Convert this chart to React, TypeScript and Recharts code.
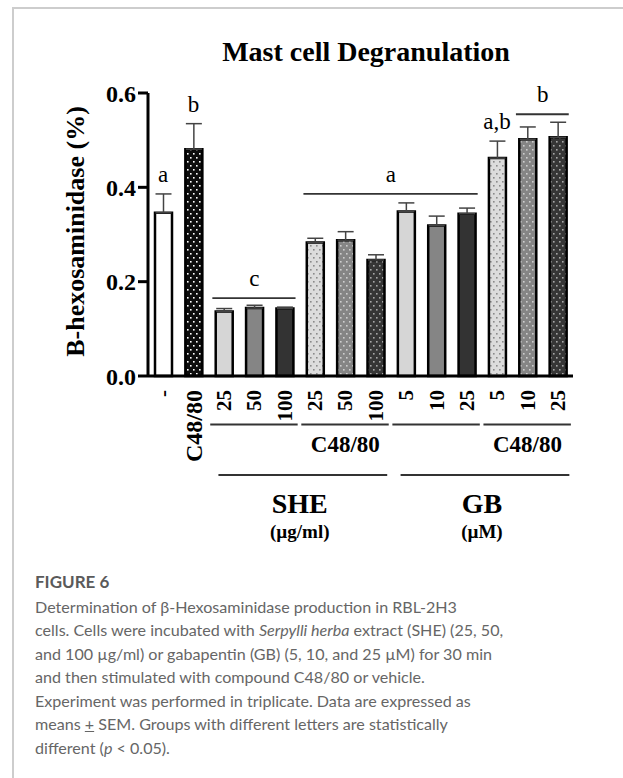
import React from 'react'
import {
  BarChart, Bar, XAxis, YAxis, Cell, ErrorBar, ReferenceLine, ReferenceDot,
} from 'recharts'

const SERIF = '"Liberation Serif", "Times New Roman", serif'

// one entry per bar, left to right
const groups = [
  'vehicle', 'c4880', 'she25', 'she50', 'she100', 'she25c', 'she50c', 'she100c',
  'gb5', 'gb10', 'gb25', 'gb5c', 'gb10c', 'gb25c',
]
const tickLabels = ['-', 'C48/80', '25', '50', '100', '25', '50', '100', '5', '10', '25', '5', '10', '25']
const means = [0.346, 0.481, 0.137, 0.144, 0.143, 0.283, 0.288, 0.246, 0.349, 0.319, 0.344, 0.462, 0.502, 0.506]
const sems = [0.040, 0.054, 0.006, 0.006, 0.003, 0.009, 0.018, 0.011, 0.018, 0.020, 0.012, 0.036, 0.026, 0.032]
const yTicks = [0, 0.2, 0.4, 0.6]

// significance letters
const barLetters = [
  { bar: 0, text: 'a' },
  { bar: 1, text: 'b' },
  { bar: 11, text: 'a,b' },
]
const brackets = [
  { from: 2, to: 4, level: 0.165, text: 'c' },
  { from: 5, to: 10, level: 0.386, text: 'a' },
  { from: 12, to: 13, level: 0.555, text: 'b' },
]

// grouping under the x axis
const treatments = [
  { from: 2, to: 4, text: '' },
  { from: 5, to: 7, text: 'C48/80' },
  { from: 8, to: 10, text: '' },
  { from: 11, to: 13, text: 'C48/80' },
]
const compounds = [
  { from: 2, to: 7, name: 'SHE', unit: '(µg/ml)' },
  { from: 8, to: 13, name: 'GB', unit: '(µM)' },
]

const barFills = [
  '#ffffff', 'url(#dotBlack)', '#d6d6d6', '#858585', '#333333', 'url(#dotLight)', 'url(#dotMid)',
  'url(#dotDark)', '#d6d6d6', '#858585', '#333333', 'url(#dotLight)', 'url(#dotMid)', 'url(#dotDark)',
]

const data = groups.map((g, i) => ({ group: g, idx: i, mean: means[i], err: [0, sems[i]] }))

function DotPattern({ id, bg, dot }: { id: string; bg: string; dot: string }) {
  return (
    <pattern id={id} width={6} height={8} patternUnits="userSpaceOnUse">
      <rect width={6} height={8} fill={bg} />
      <rect x={1} y={1} width={1.6} height={1.6} fill={dot} />
      <rect x={4} y={5} width={1.6} height={1.6} fill={dot} />
    </pattern>
  )
}

function RotTick({ x, y, payload }: any) {
  const label = tickLabels[payload.index]
  const fs = label === 'C48/80' ? 24 : 21
  const bx = x + fs * 0.34
  const by = y + 6
  return (
    <text
      x={bx} y={by} transform={`rotate(-90 ${bx} ${by})`} textAnchor="end"
      fontSize={fs} fontWeight="bold" fontFamily={SERIF} fill="#000"
    >
      {label}
    </text>
  )
}

function txt(s: string, size: number, bold: boolean, dy: number) {
  return (p: any) => (
    <text
      x={p.cx} y={p.cy + dy} textAnchor="middle" fontSize={size}
      fontWeight={bold ? 'bold' : 'normal'} fontFamily={SERIF} fill="#000"
    >
      {s}
    </text>
  )
}

function offsetLine(dy: number, color: string, w: number) {
  return (p: any) => (
    <line x1={p.x1} y1={p.y1 + dy} x2={p.x2} y2={p.y2 + dy} stroke={color} strokeWidth={w} />
  )
}

function Chart() {
  return (
    <BarChart
      width={623} height={560} data={data}
      margin={{ top: 93, right: 50, left: 0, bottom: 0 }}
    >
      <defs>
        <DotPattern id="dotBlack" bg="#0d0d0d" dot="#ffffff" />
        <DotPattern id="dotLight" bg="#dcdcdc" dot="#8a8a8a" />
        <DotPattern id="dotMid" bg="#858585" dot="#cfcfcf" />
        <DotPattern id="dotDark" bg="#363636" dot="#a8a8a8" />
      </defs>
      <XAxis
        dataKey="group" height={184} interval={0} tickLine={false}
        axisLine={{ stroke: '#000', strokeWidth: 3 }}
        tick={(p: any) => <RotTick {...p} />}
      />
      <XAxis xAxisId="n" type="number" dataKey="idx" domain={[0, 14]} allowDataOverflow hide />
      <YAxis
        domain={[0, 0.6]} ticks={yTicks} width={148} tickSize={10} tickMargin={2}
        tickFormatter={(v: number) => v.toFixed(1)}
        axisLine={{ stroke: '#000', strokeWidth: 3 }}
        tickLine={{ stroke: '#000', strokeWidth: 3 }}
        tick={{ fill: '#000', fontSize: 24, fontWeight: 'bold', fontFamily: SERIF }}
        label={{
          content: (p: any) => {
            const cx = p.viewBox.x + 84
            const cy = p.viewBox.y + p.viewBox.height / 2 - 3
            return (
              <text
                x={cx} y={cy} transform={`rotate(-90 ${cx} ${cy})`} textAnchor="middle"
                fontSize={26} fontWeight="bold" fontFamily={SERIF} fill="#000"
              >
                B-hexosaminidase (%)
              </text>
            )
          },
        }}
      />
      <Bar
        dataKey="mean" barSize={17} stroke="#000" strokeWidth={2.5}
        isAnimationActive={false}
      >
        {data.map((d, i) => <Cell key={d.group} fill={barFills[i]} />)}
        <ErrorBar
          dataKey="err" width={8} stroke="#444" strokeWidth={1.5}
          direction="y" isAnimationActive={false}
        />
      </Bar>

      {barLetters.map((l) => (
        <ReferenceDot
          key={'bl' + l.bar} xAxisId="n" x={l.bar + 0.5} y={means[l.bar] + sems[l.bar]}
          ifOverflow="visible" shape={txt(l.text, 23, false, -12)}
        />
      ))}
      {brackets.map((b) => (
        <ReferenceLine
          key={'br' + b.from} xAxisId="n" ifOverflow="visible"
          segment={[{ x: b.from + 0.12, y: b.level }, { x: b.to + 0.86, y: b.level }]}
          stroke="#333" strokeWidth={1.8}
        />
      ))}
      {brackets.map((b) => (
        <ReferenceDot
          key={'bt' + b.from} xAxisId="n" x={(b.from + b.to + 1) / 2} y={b.level}
          ifOverflow="visible" shape={txt(b.text, 23, false, -12)}
        />
      ))}

      {treatments.map((t) => (
        <ReferenceLine
          key={'tl' + t.from} xAxisId="n" ifOverflow="visible"
          segment={[{ x: t.from + 0.05, y: 0 }, { x: t.to + 0.93, y: 0 }]}
          shape={offsetLine(48.5, '#333', 2)}
        />
      ))}
      {treatments.filter((t) => t.text).map((t) => (
        <ReferenceDot
          key={'tt' + t.from} xAxisId="n" x={(t.from + t.to + 1) / 2} y={0}
          ifOverflow="visible" shape={txt(t.text, 23, true, 76)}
        />
      ))}
      {compounds.map((c) => (
        <ReferenceLine
          key={'cl' + c.from} xAxisId="n" ifOverflow="visible"
          segment={[{ x: c.from + 0.32, y: 0 }, { x: c.to + 0.88, y: 0 }]}
          shape={offsetLine(99, '#333', 2)}
        />
      ))}
      {compounds.map((c) => (
        <ReferenceDot
          key={'cn' + c.from} xAxisId="n" x={(c.from + c.to + 1) / 2} y={0}
          ifOverflow="visible" shape={txt(c.name, 28, true, 137)}
        />
      ))}
      {compounds.map((c) => (
        <ReferenceDot
          key={'cu' + c.from} xAxisId="n" x={(c.from + c.to + 1) / 2} y={0}
          ifOverflow="visible" shape={txt(c.unit, 19, true, 162)}
        />
      ))}
    </BarChart>
  )
}

export default function App() {
  return (
    <div style={{ position: 'absolute', left: 0, top: 0, width: 623, height: 778, background: '#fff', overflow: 'hidden' }}>
      <div style={{ position: 'absolute', left: 12, top: 7, right: 0, bottom: 0, borderTop: '2px solid #cdcdcd', borderLeft: '2px solid #cdcdcd' }} />
      <div style={{ position: 'absolute', left: 0, top: 0 }}>
        <Chart />
      </div>
      <svg width={623} height={80} style={{ position: 'absolute', left: 0, top: 0, pointerEvents: 'none' }}>
        <text x={366} y={61} textAnchor="middle" fontSize={28} fontWeight="bold" fontFamily={SERIF} fill="#000">
          Mast cell Degranulation
        </text>
      </svg>
      <div style={{ position: 'absolute', left: 35, top: 569, fontFamily: 'Lato, "Open Sans", sans-serif', color: '#666', whiteSpace: 'nowrap' }}>
        <div style={{ fontSize: 17, lineHeight: '25.5px', fontWeight: 'bold', color: '#5a5a5a' }}>FIGURE 6</div>
        <div style={{ fontSize: 16.1, lineHeight: '23.6px' }}>
          Determination of β-Hexosaminidase production in RBL-2H3<br />
          cells. Cells were incubated with <i>Serpylli herba</i> extract (SHE) (25, 50,<br />
          and 100 µg/ml) or gabapentin (GB) (5, 10, and 25 µM) for 30 min<br />
          and then stimulated with compound C48/80 or vehicle.<br />
          Experiment was performed in triplicate. Data are expressed as<br />
          means <u>+</u> SEM. Groups with different letters are statistically<br />
          different (<i>p</i> &lt; 0.05).
        </div>
      </div>
    </div>
  )
}
